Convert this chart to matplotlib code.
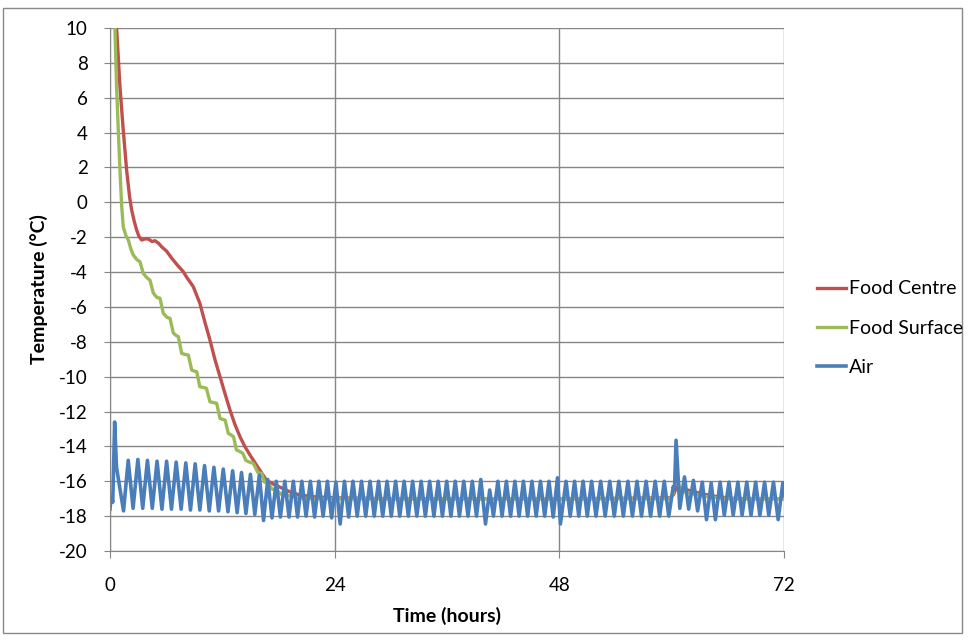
import matplotlib.pyplot as plt
from matplotlib.patches import Rectangle

# ---------------------------------------------------------------
# Data
# ---------------------------------------------------------------
centre_t = [0.5, 0.71, 1.07, 1.42, 1.78, 2.1, 2.32, 2.6, 2.85, 3.1, 3.38, 3.7, 4.1, 4.5, 4.8,
            5.2, 5.52, 6.05, 6.59, 7.2, 7.83, 8.2, 8.9, 9.6, 10.1, 10.68, 11.2, 11.75, 12.3,
            12.82, 13.35, 13.89, 14.4, 14.96, 15.5, 16.0, 16.7, 17.4, 18.2, 19.2, 20.3, 22.0,
            24.0, 30.0, 40.0, 50.0, 59.8, 60.2, 60.5, 61.0, 62.0, 63.5, 65.0, 67.0, 72.0]
centre_T = [12.0, 10.0, 6.63, 4.15, 1.85, 0.3, -0.44, -1.1, -1.59, -1.95, -2.16, -2.1, -2.1,
            -2.25, -2.2, -2.35, -2.55, -2.8, -3.2, -3.6, -3.98, -4.3, -4.84, -5.79, -6.8, -7.9,
            -9.0, -10.0, -11.0, -11.92, -12.75, -13.45, -14.0, -14.5, -14.95, -15.36, -15.93,
            -16.15, -16.35, -16.6, -16.8, -16.9, -16.95, -17.0, -17.0, -17.0, -16.95, -16.75,
            -16.35, -16.4, -16.55, -16.75, -16.9, -17.0, -17.0]

surface_t = [0.35, 0.53, 0.71, 0.89, 1.07, 1.25, 1.42, 1.7, 1.96, 2.25, 2.49, 2.9, 3.2, 3.56,
             3.9, 4.27, 4.63, 5.0, 5.34, 5.7, 6.1, 6.41, 6.77, 7.1, 7.3, 7.66, 8.0, 8.37, 8.73,
             9.0, 9.26, 9.6, 10.0, 10.3, 10.68, 11.0, 11.4, 11.75, 12.05, 12.3, 12.64, 12.95,
             13.2, 13.5, 13.9, 14.2, 14.5, 14.8, 15.3, 15.8, 16.2, 16.5, 16.9, 17.3, 17.8, 18.3,
             19.0, 20.0, 22.0, 59.8, 60.15, 60.5, 60.8, 61.3, 62.5, 64.0, 66.0, 72.0]
surface_T = [12.0, 10.0, 6.6, 4.15, 1.85, -0.2, -1.4, -1.9, -2.16, -2.7, -3.02, -3.3, -3.4,
             -4.07, -4.3, -4.46, -5.2, -5.45, -5.5, -6.37, -6.6, -6.65, -7.5, -7.65, -7.7, -8.67,
             -8.72, -8.76, -9.62, -9.68, -9.72, -10.58, -10.62, -10.67, -11.44, -11.48, -11.53,
             -12.4, -12.45, -12.49, -13.25, -13.35, -13.45, -14.2, -14.3, -14.4, -14.8, -14.88,
             -14.97, -15.5, -15.55, -16.05, -16.1, -16.45, -16.5, -16.75, -16.8, -16.95, -17.0,
             -17.0, -16.7, -15.5, -16.3, -16.6, -16.75, -16.9, -17.0, -17.0]

air_t = [0.0, 0.15, 0.3, 0.5, 0.7, 1.45, 1.95, 2.47, 2.98, 3.5, 4.0, 4.52, 5.03, 5.55, 6.05,
         6.57, 7.07, 7.6, 8.1, 8.6, 9.1, 9.6, 10.1, 10.6, 11.1, 11.6, 12.1, 12.6, 13.1, 13.58,
         14.05, 14.52, 15.0, 15.47, 15.95, 16.4, 16.85, 17.3, 17.76, 18.2, 18.67, 19.12, 19.58,
         20.03, 20.49, 20.94, 21.4, 21.85, 22.31, 22.76, 23.22, 23.67, 24.13, 24.58, 25.04,
         25.49, 25.95, 26.4, 26.86, 27.31, 27.77, 28.22, 28.68, 29.13, 29.59, 30.04, 30.5,
         30.95, 31.41, 31.86, 32.32, 32.77, 33.23, 33.68, 34.14, 34.59, 35.05, 35.5, 35.96,
         36.41, 36.87, 37.32, 37.78, 38.23, 38.69, 39.14, 39.6, 40.1, 40.55, 40.95, 41.42,
         41.87, 42.33, 42.78, 43.24, 43.69, 44.15, 44.6, 45.06, 45.51, 45.97, 46.42, 46.88,
         47.33, 47.79, 48.1, 48.7, 49.15, 49.61, 50.06, 50.52, 50.97, 51.43, 51.9, 52.4, 52.88,
         53.37, 53.85, 54.34, 54.82, 55.31, 55.79, 56.28, 56.76, 57.25, 57.73, 58.22, 58.7,
         59.19, 59.67, 60.15, 60.28, 60.45, 60.85, 61.35, 61.8, 62.3, 62.75, 63.25, 63.7, 64.2,
         64.65, 65.15, 65.6, 66.1, 66.55, 67.05, 67.5, 68.0, 68.45, 68.95, 69.4, 69.9, 70.35,
         70.85, 71.35, 71.85, 72.0]
air_T = [-17.6, -16.9, -17.2, -12.6, -15.2, -17.7, -14.8, -17.55, -14.75, -17.55, -14.8,
         -17.55, -14.85, -17.6, -14.85, -17.6, -14.9, -17.6, -14.95, -17.65, -15.0, -17.65,
         -15.1, -17.7, -15.2, -17.7, -15.3, -17.75, -15.4, -17.8, -15.5, -17.85, -15.6, -17.9,
         -15.65, -18.25, -15.9, -18.1, -16.0, -18.05, -16.0, -18.05, -16.0, -18.05, -16.0,
         -18.0, -16.0, -18.05, -16.0, -18.0, -16.0, -18.1, -16.05, -18.45, -16.0, -18.05,
         -16.0, -18.0, -16.0, -18.0, -16.0, -18.0, -16.0, -18.0, -16.0, -18.0, -16.0, -18.0,
         -16.0, -18.0, -16.0, -18.0, -16.0, -18.0, -16.0, -18.0, -16.0, -18.0, -16.0, -18.0,
         -16.0, -18.0, -16.0, -18.0, -16.0, -18.0, -15.9, -18.45, -16.5, -18.0, -16.0, -18.0,
         -16.0, -18.0, -16.0, -18.0, -16.0, -18.0, -16.0, -18.0, -16.0, -18.0, -16.0, -18.05,
         -15.8, -18.45, -16.0, -18.0, -16.0, -18.0, -16.0, -18.0, -16.0, -18.0, -16.0, -18.0,
         -16.0, -18.0, -16.0, -18.0, -16.0, -18.0, -16.0, -18.0, -16.0, -18.0, -16.0, -18.0,
         -16.0, -18.0, -16.3, -16.5, -13.65, -17.55, -15.75, -17.6, -15.95, -17.7, -16.05,
         -18.2, -16.1, -18.2, -16.05, -17.95, -16.05, -17.95, -16.05, -17.95, -16.05, -17.95,
         -16.05, -17.95, -16.05, -17.95, -16.05, -18.2, -16.1, -16.8]

x_ticks = [0, 24, 48, 72]
y_ticks = list(range(-20, 11, 2))

# ---------------------------------------------------------------
# Plot
# ---------------------------------------------------------------
plt.rcParams['font.family'] = ['Lato', 'DejaVu Sans']
plt.rcParams['axes.unicode_minus'] = False
grid_col = "#868686"

fig = plt.figure(figsize=(9.73, 6.41), dpi=100)
fig.patches.append(Rectangle((0.003, 0.012), 0.986, 0.975, transform=fig.transFigure,
                             fill=False, edgecolor="#898989", lw=1.0))
ax = fig.add_axes([0.113, 0.1404, 0.693, 0.8159])

ax.plot(centre_t, centre_T, color="#C0504D", lw=2.4, label="Food Centre")
ax.plot(surface_t, surface_T, color="#9BBB59", lw=2.4, label="Food Surface")
ax.plot(air_t, air_T, color="#4A7EBB", lw=2.6, label="Air")

ax.set_xlim(0, 72)
ax.set_ylim(-20, 10)
ax.set_xticks(x_ticks)
ax.set_yticks(y_ticks)
ax.grid(True, color=grid_col, lw=1.0)
ax.set_axisbelow(True)
for side in ["top", "right"]:
    ax.spines[side].set_visible(False)
for side in ["left", "bottom"]:
    ax.spines[side].set_color(grid_col)
ax.tick_params(axis="y", length=4, color=grid_col, pad=12, labelsize=13.5)
ax.tick_params(axis="x", length=5, color=grid_col, pad=14, labelsize=13.5)

ax.set_xlabel("Time (hours)", fontsize=14, fontweight="bold", labelpad=9)
ax.set_ylabel("Temperature (°C)", fontsize=14, fontweight="bold", labelpad=8)

fig.legend(loc="upper left", bbox_to_anchor=(0.822, 0.59), frameon=False, fontsize=14,
           handlelength=1.45, handletextpad=0.2, labelspacing=1.15)

plt.savefig("out.png", dpi=100)
